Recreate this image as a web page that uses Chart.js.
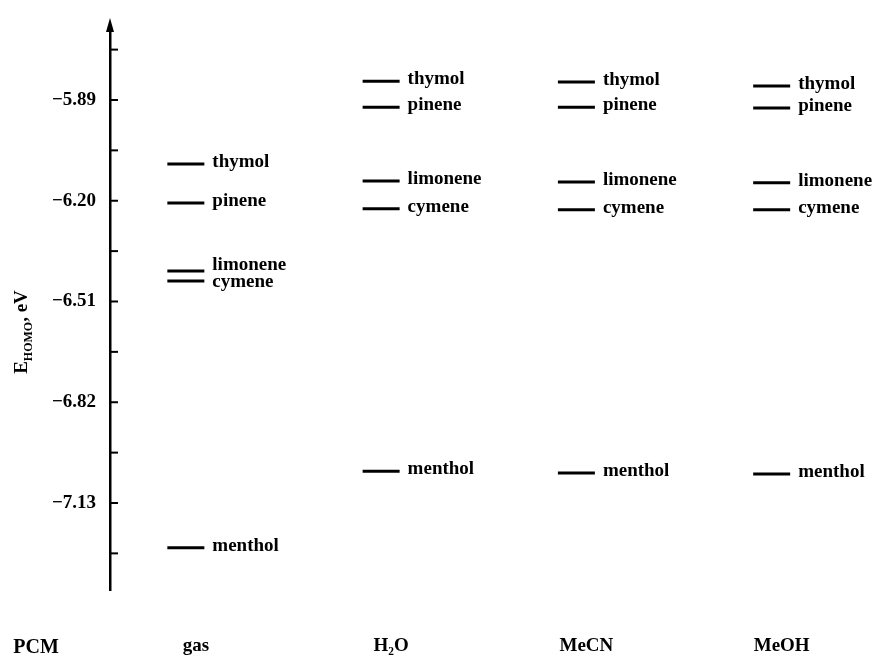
<!DOCTYPE html>
<html>
<head>
<meta charset="utf-8">
<script src="https://cdn.jsdelivr.net/npm/chart.js@4/dist/chart.umd.min.js"></script>
<style>
  html, body { margin: 0; padding: 0; background: #fff; }
  #wrap { width: 880px; height: 663px; }
</style>
</head>
<body>
<div id="wrap"><canvas id="levels"></canvas></div>
<script>
// solvent columns (PCM) and the molecules plotted in each
const solvents = ["gas", "H\u2082O", "MeCN", "MeOH"];
const solventPos = [1, 2, 3, 4];
const molecules = ["thymol", "pinene", "limonene", "cymene", "menthol"];

// E_HOMO, eV — one array per molecule, in solvent order
const thymol   = [-6.087, -5.832, -5.835, -5.847];
const pinene   = [-6.207, -5.912, -5.912, -5.915];
const limonene = [-6.416, -6.139, -6.142, -6.145];
const cymene   = [-6.447, -6.225, -6.228, -6.228];
const menthol  = [-7.268, -7.032, -7.038, -7.041];

const majorTicks = [-5.89, -6.20, -6.51, -6.82, -7.13];
const tickStep = 0.155;

const serif = "'Liberation Serif', 'DejaVu Serif', serif";
const levelHalf = 18.5;

const series = [thymol, pinene, limonene, cymene, menthol];

const datasets = series.map((vals, i) => ({
    label: molecules[i],
    data: vals.map((v, j) => ({ x: solventPos[j], y: v })),
    pointStyle: "line",
    pointRadius: levelHalf,
    pointHoverRadius: levelHalf,
    pointBorderWidth: 3,
    pointHoverBorderWidth: 3,
    borderColor: "#000",
    backgroundColor: "#000",
    showLine: false
}));

// arrow, inward ticks, level names, axis title
const decor = {
    id: "decor",
    afterDraw(chart) {
        const ctx = chart.ctx;
        const area = chart.chartArea;
        const yScale = chart.scales.y;
        const ax = area.left;

        ctx.save();
        ctx.fillStyle = "#000";
        ctx.strokeStyle = "#000";

        // arrow head
        ctx.beginPath();
        ctx.moveTo(ax, area.top - 10);
        ctx.lineTo(ax - 4, area.top + 4);
        ctx.lineTo(ax + 4, area.top + 4);
        ctx.closePath();
        ctx.fill();

        // ticks pointing into the plot
        ctx.lineWidth = 2;
        yScale.ticks.forEach(t => {
            const y = yScale.getPixelForValue(t.value);
            if (y < area.top + 4 || y > area.bottom) return;
            ctx.beginPath();
            ctx.moveTo(ax, y);
            ctx.lineTo(ax + 8, y);
            ctx.stroke();
        });

        // level names, pushed apart when two sit too close
        ctx.font = "bold 19px " + serif;
        ctx.textAlign = "left";
        ctx.textBaseline = "middle";
        solvents.forEach((s, j) => {
            const items = datasets.map((d, i) => {
                const pt = chart.getDatasetMeta(i).data[j];
                return { name: molecules[i], x: pt.x + levelHalf + 8, y: pt.y - 2 };
            }).sort((a, b) => a.y - b.y);
            for (let k = 1; k < items.length; k++) {
                const gap = items[k].y - items[k - 1].y;
                if (gap < 17) {
                    const push = (17 - gap) / 2;
                    items[k - 1].y -= push;
                    items[k].y += push;
                }
            }
            items.forEach(it => ctx.fillText(it.name, it.x, it.y));
        });

        // y axis title: E_HOMO, eV
        ctx.translate(21, 332);
        ctx.rotate(-Math.PI / 2);
        const big = "bold 19px " + serif;
        const small = "bold 12px " + serif;
        ctx.font = big;
        const wE = ctx.measureText("E").width;
        const wRest = ctx.measureText(", eV").width;
        ctx.font = small;
        const wSub = ctx.measureText("HOMO").width;
        let x = -(wE + wSub + wRest) / 2;
        ctx.textBaseline = "alphabetic";
        ctx.font = big;
        ctx.fillText("E", x, 6);
        x += wE;
        ctx.font = small;
        ctx.fillText("HOMO", x, 11);
        x += wSub;
        ctx.font = big;
        ctx.fillText(", eV", x, 6);
        ctx.restore();

        // PCM caption left of the solvent names
        ctx.save();
        ctx.font = "bold 20px " + serif;
        ctx.fillStyle = "#000";
        ctx.textAlign = "center";
        ctx.textBaseline = "middle";
        ctx.fillText("PCM", 36, 648);
        ctx.restore();
    }
};

new Chart(document.getElementById("levels"), {
    type: "scatter",
    data: { datasets },
    options: {
        responsive: true,
        maintainAspectRatio: false,
        animation: false,
        events: [],
        layout: { padding: { top: 28, right: 20, bottom: 0, left: 0 } },
        plugins: { legend: { display: false }, tooltip: { enabled: false } },
        scales: {
            x: {
                type: "linear",
                min: 0.6116,
                max: 4.4446,
                afterBuildTicks: scale => {
                    scale.ticks = solventPos.map(v => ({ value: v }));
                },
                afterFit: scale => { scale.height = 73; },
                ticks: {
                    autoSkip: false,
                    maxRotation: 0,
                    padding: 45,
                    labelOffset: 10,
                    color: "#000",
                    font: { family: serif, size: 19, weight: "bold" },
                    callback: v => solvents[solventPos.indexOf(v)] || ""
                },
                grid: { display: false, drawTicks: false },
                border: { display: false }
            },
            y: {
                type: "linear",
                min: -7.3977,
                max: -5.6685,
                afterFit: scale => { scale.width = 110; },
                ticks: {
                    stepSize: tickStep,
                    includeBounds: false,
                    autoSkip: false,
                    padding: 14,
                    color: "#000",
                    font: { family: serif, size: 19, weight: "bold" },
                    callback: v => {
                        const hit = majorTicks.find(m => Math.abs(m - v) < 0.01);
                        return hit === undefined ? "" : "\u2212" + Math.abs(hit).toFixed(2);
                    }
                },
                grid: { display: false, drawTicks: false },
                border: { display: true, color: "#000", width: 2.5 }
            }
        }
    },
    plugins: [decor]
});
</script>
</body>
</html>
